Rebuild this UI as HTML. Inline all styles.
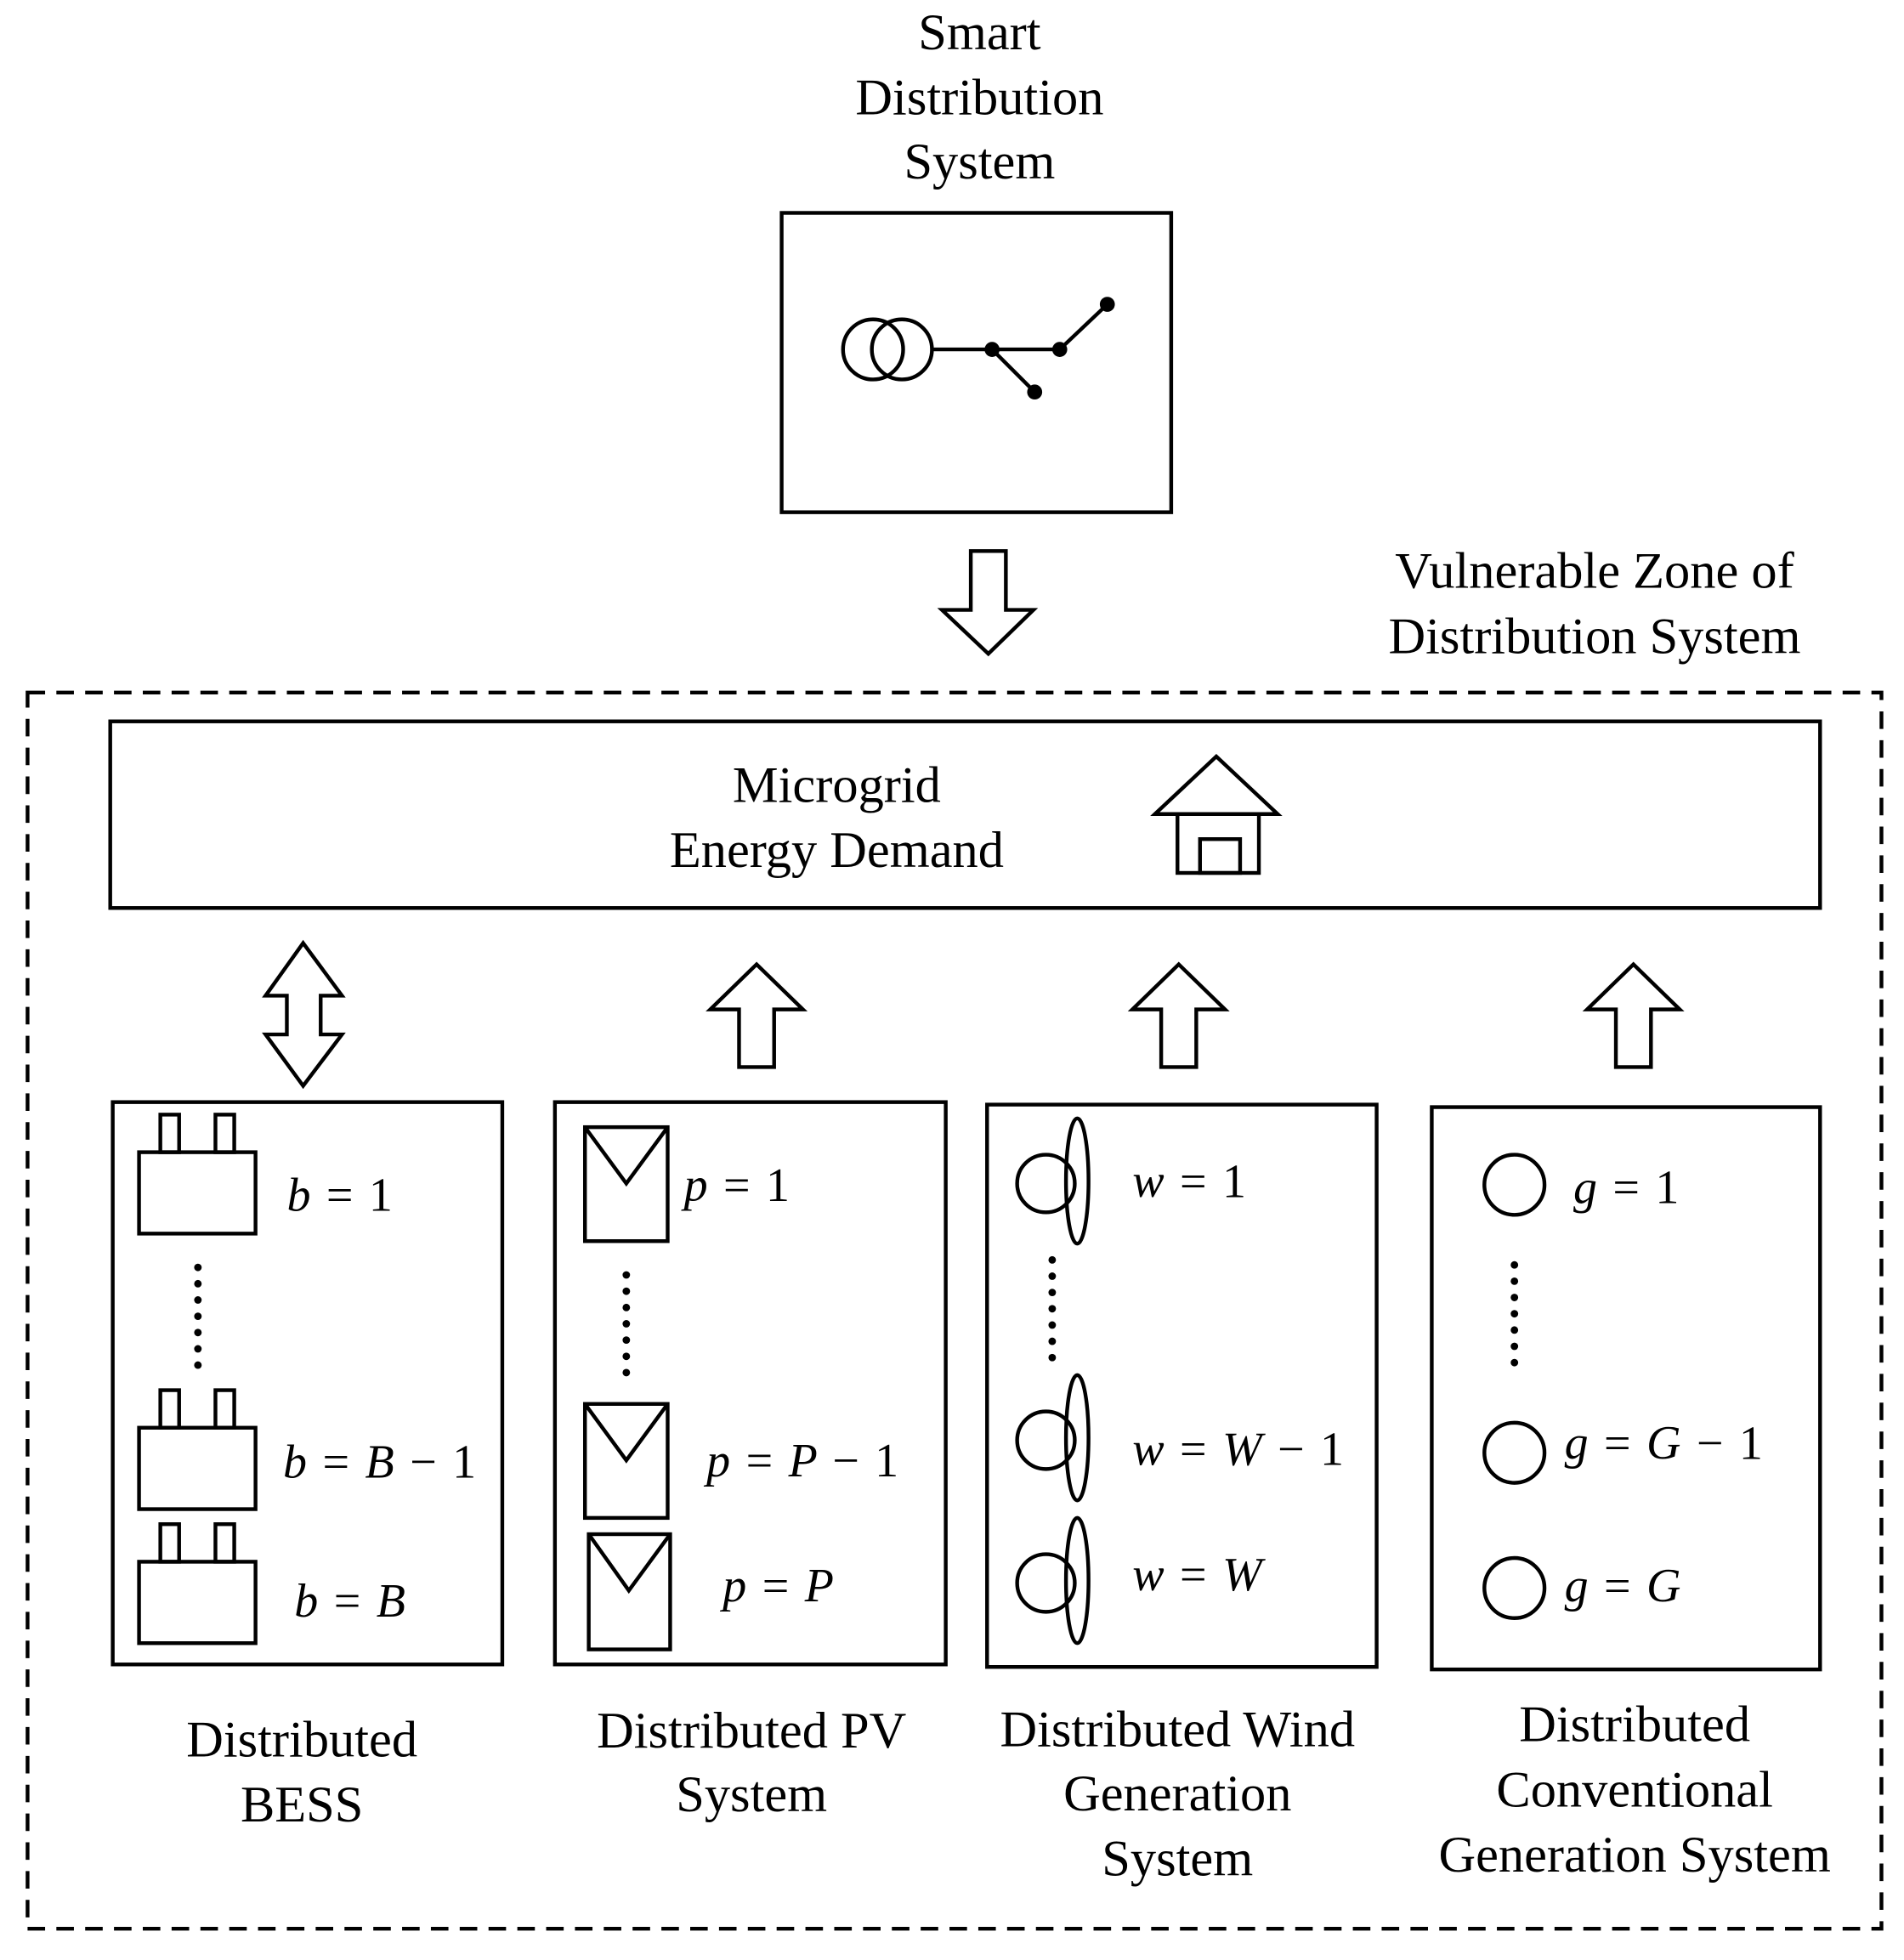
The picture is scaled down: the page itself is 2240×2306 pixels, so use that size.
<!DOCTYPE html>
<html><head><meta charset="utf-8"><style>
html,body{margin:0;padding:0;background:#fff;}
svg{display:block;}
text{font-family:"Liberation Serif",serif;fill:#000;}
.t{font-size:41px;}
.m{font-size:38px;font-style:italic;letter-spacing:1.5px;}
</style></head><body>
<svg width="2240" height="2306" viewBox="0 0 1520 1565" preserveAspectRatio="none" xmlns="http://www.w3.org/2000/svg">
<defs>
<g id="d1" fill="#000"><circle cx="0" cy="0" r="3"/><circle cx="0" cy="13" r="3"/><circle cx="0" cy="26" r="3"/><circle cx="0" cy="39" r="3"/><circle cx="0" cy="52" r="3"/><circle cx="0" cy="65" r="3"/><circle cx="0" cy="78" r="3"/></g>
</defs>
<g fill="none" stroke="#000" stroke-width="3">
<rect x="624" y="170" width="311" height="239"/>
<circle cx="697" cy="279" r="24"/><circle cx="720" cy="279" r="24"/>
<path d="M744 279H846M792 279L826 313M846 279L884 243"/>
<path d="M775 440H803V487H825L789 522L752 487H775Z"/>
<rect x="22" y="553" width="1480" height="987" stroke-dasharray="14 9"/>
<rect x="88" y="576" width="1365" height="149"/>
<path d="M922 650L971 604L1020 650Z"/>
<rect x="940" y="650" width="65" height="47"/>
<rect x="958" y="670" width="32" height="27"/>
<path d="M242 753L273 795H256V826H273L242 867L212 826H229V795H212Z"/>
<path d="M604 770L641 806H618V852H590V806H567Z"/>
<path d="M941 770L978 806H955V852H927V806H904Z"/>
<path d="M1304 770L1341 806H1318V852H1290V806H1267Z"/>
<rect x="90" y="880" width="311" height="449"/>
<rect x="443" y="880" width="312" height="449"/>
<rect x="788" y="882" width="311" height="449"/>
<rect x="1143" y="884" width="310" height="449"/>
<rect x="111" y="920" width="93" height="65"/><rect x="128" y="890" width="15" height="30"/><rect x="172" y="890" width="15" height="30"/>
<rect x="111" y="1140" width="93" height="65"/><rect x="128" y="1110" width="15" height="30"/><rect x="172" y="1110" width="15" height="30"/>
<rect x="111" y="1247" width="93" height="65"/><rect x="128" y="1217" width="15" height="30"/><rect x="172" y="1217" width="15" height="30"/>
<rect x="467" y="900" width="66" height="91"/><path d="M467 900L500 945L533 900"/>
<rect x="467" y="1121" width="66" height="91"/><path d="M467 1121L500 1166L533 1121"/>
<rect x="470" y="1225" width="65" height="92"/><path d="M470 1225L502 1270L535 1225"/>
<circle cx="835" cy="945" r="23"/><ellipse cx="860" cy="943" rx="9" ry="50"/>
<circle cx="835" cy="1150" r="23"/><ellipse cx="860" cy="1148" rx="9" ry="50"/>
<circle cx="835" cy="1264" r="23"/><ellipse cx="860" cy="1262" rx="9" ry="50"/>
<circle cx="1209" cy="946" r="24"/><circle cx="1209" cy="1160" r="24"/><circle cx="1209" cy="1268" r="24"/>
</g>
<g fill="#000">
<circle cx="792" cy="279" r="6"/><circle cx="826" cy="313" r="6"/><circle cx="846" cy="279" r="6"/><circle cx="884" cy="243" r="6"/>
</g>
<use href="#d1" transform="translate(158,1012)"/>
<use href="#d1" transform="translate(500,1018)"/>
<use href="#d1" transform="translate(840,1006)"/>
<use href="#d1" transform="translate(1209,1010)"/>
<g class="t" text-anchor="middle" dominant-baseline="middle">
<text x="782" y="30">Smart</text><text x="782" y="82">Distribution</text><text x="782" y="133">System</text>
<text x="1273" y="460">Vulnerable Zone of</text><text x="1273" y="512">Distribution System</text>
<text x="668" y="631">Microgrid</text><text x="668" y="683">Energy Demand</text>
<text x="241" y="1393">Distributed</text><text x="241" y="1445">BESS</text>
<text x="600" y="1386">Distributed PV</text><text x="600" y="1437">System</text>
<text x="940" y="1385">Distributed Wind</text><text x="940" y="1436">Generation</text><text x="940" y="1488">System</text>
<text x="1305" y="1381">Distributed</text><text x="1305" y="1433">Conventional</text><text x="1305" y="1485">Generation System</text>
</g>
<g class="m" dominant-baseline="middle">
<text x="229" y="958">b <tspan font-style="normal">= 1</tspan></text>
<text x="226" y="1171">b <tspan font-style="normal">=</tspan> B <tspan font-style="normal">− 1</tspan></text>
<text x="235" y="1282">b <tspan font-style="normal">=</tspan> B</text>
<text x="546" y="950">p <tspan font-style="normal">= 1</tspan></text>
<text x="564" y="1170">p <tspan font-style="normal">=</tspan> P <tspan font-style="normal">− 1</tspan></text>
<text x="577" y="1270">p <tspan font-style="normal">=</tspan> P</text>
<text x="904" y="947">w <tspan font-style="normal">= 1</tspan></text>
<text x="904" y="1161">w <tspan font-style="normal">=</tspan> W <tspan font-style="normal">− 1</tspan></text>
<text x="904" y="1261">w <tspan font-style="normal">=</tspan> W</text>
<text x="1256" y="952">g <tspan font-style="normal">= 1</tspan></text>
<text x="1249" y="1156">g <tspan font-style="normal">=</tspan> G <tspan font-style="normal">− 1</tspan></text>
<text x="1249" y="1270">g <tspan font-style="normal">=</tspan> G</text>
</g>
</svg>
</body></html>
